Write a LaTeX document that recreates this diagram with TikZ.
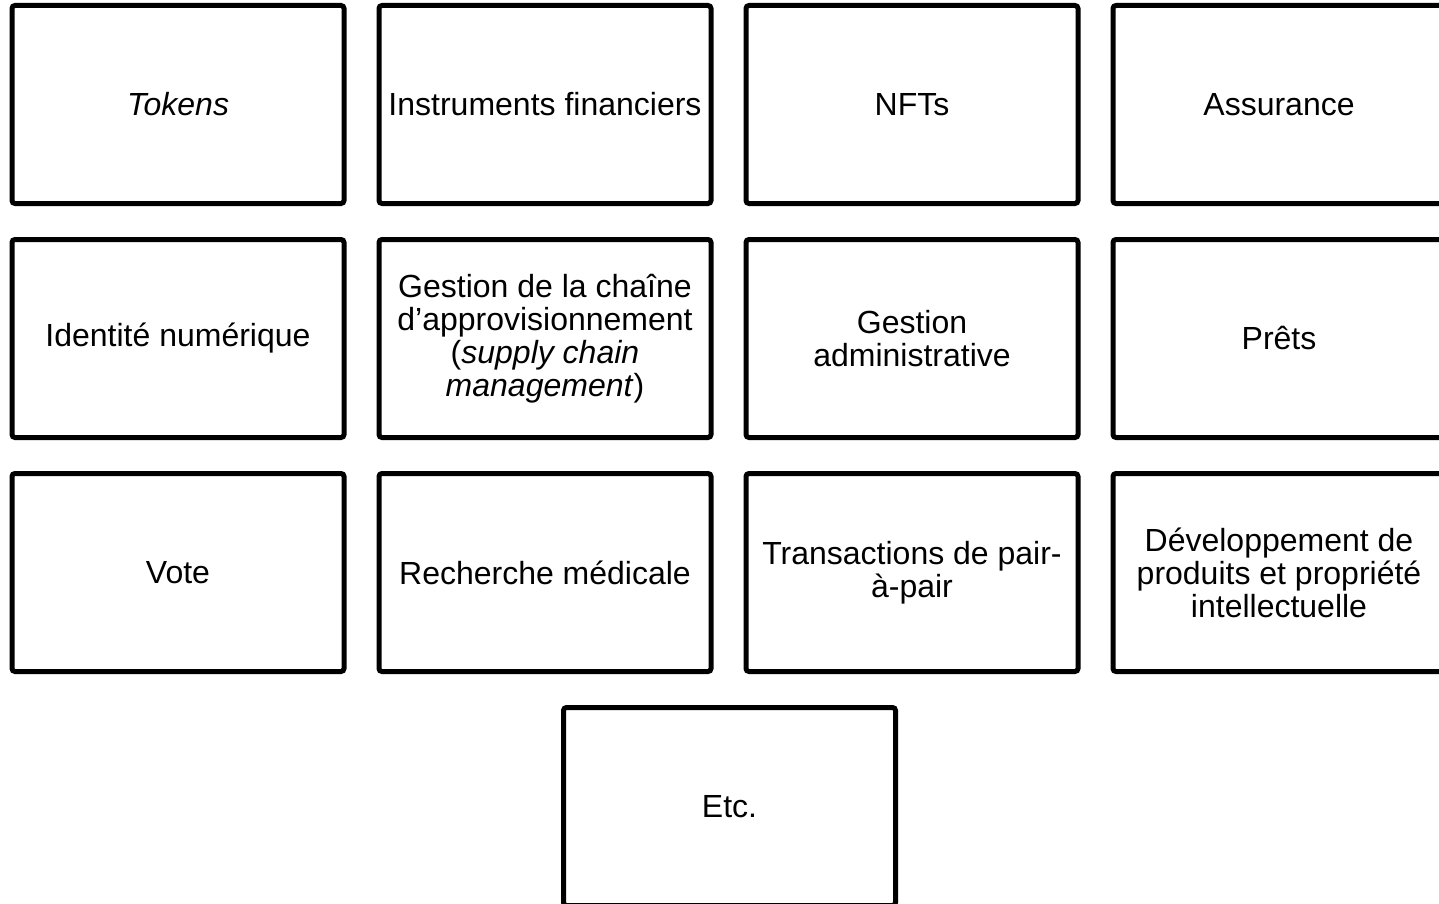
\documentclass[tikz,border=0pt]{standalone}
\usepackage{fontspec}
\setmainfont{Liberation Sans}
\begin{document}
\begin{tikzpicture}[x=1pt,y=-1pt,
  usecase/.style={draw=black, line width=5pt, rounded corners=3pt,
    minimum width=332pt, minimum height=198pt, inner sep=0pt,
    align=center, font=\fontsize{32}{33}\selectfont, text=black}]
  \useasboundingbox (0,0) rectangle (1439,904);
  \clip (0,0) rectangle (1439,904);
  % row 1
  \node[usecase] (tokens) at (178,104.5) {\textit{Tokens}};
  \node[usecase] (instr)  at (545,104.5) {Instruments financiers};
  \node[usecase] (nfts)   at (912,104.5) {NFTs};
  \node[usecase] (assur)  at (1279,104.5) {Assurance};
  % row 2
  \node[usecase] (ident)  at (178,338.5) {Identité numérique};
  \node[usecase] (supply) at (545,338.5) {Gestion de la chaîne\\d’approvisionnement\\(\textit{supply chain}\\\textit{management})};
  \node[usecase] (admin)  at (912,338.5) {Gestion\\administrative};
  \node[usecase] (prets)  at (1279,338.5) {Prêts};
  % row 3
  \node[usecase] (vote)   at (178,572.5) {Vote};
  \node[usecase] (medic)  at (545,572.5) {Recherche médicale};
  \node[usecase] (p2p)    at (912,572.5) {Transactions de pair-\\à-pair};
  \node[usecase] (devprod) at (1279,572.5) {Développement de\\produits et propriété\\intellectuelle};
  % row 4
  \node[usecase] (etc)    at (729.5,806.5) {Etc.};
\end{tikzpicture}
\end{document}
